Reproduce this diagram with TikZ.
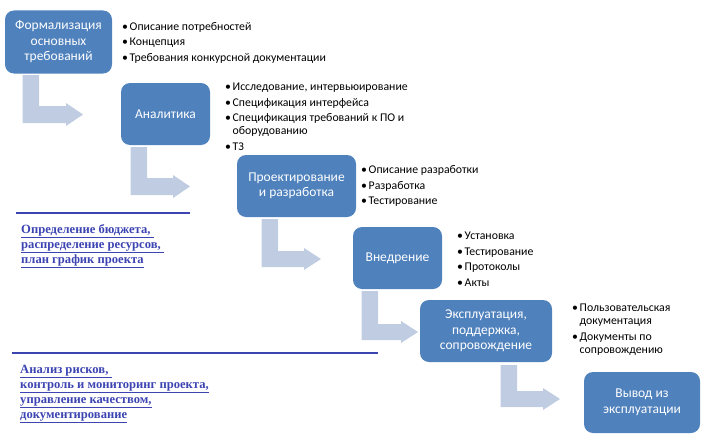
\documentclass[tikz,border=0pt]{standalone}
\usepackage{fontspec}
\setmainfont{Carlito}
\newfontfamily\serifb{Liberation Serif}
\definecolor{boxblue}{RGB}{79,129,189}
\definecolor{arrowfill}{RGB}{192,204,226}
\definecolor{linkblue}{RGB}{60,68,178}
\tikzset{
  stage/.style={fill=boxblue, rounded corners=9pt, text=white, align=center, inner sep=0pt,
     font=\fontsize{13.5}{15.5}\selectfont},
  blist/.style={anchor=north west, inner sep=0pt, align=left, text width=#1,
     font=\fontsize{11.8}{13}\selectfont},
  note/.style={anchor=north west, inner sep=0pt, align=left, text=linkblue,
     font=\serifb\bfseries\fontsize{12.6}{15}\selectfont},
  rule/.style={draw=linkblue, line width=2.6pt}
}
\newcommand\bitem[1]{\par\rightskip=0pt plus 1fil\spaceskip=0.23em plus 0.05em\hangindent=7.5pt\hangafter=1\noindent\makebox[7.5pt][l]{•}#1\par\vspace{2.8pt}}
% #1 x left, #2 y top, #3 shaft top, #4 shaft bottom, #5 tip x
\newcommand\bendarrow[5]{%
  \fill[arrowfill] (#1,#2) -- (#1+16.5,#2) -- (#1+16.5,#3) -- (#5-17,#3) -- (#5-17,#3-3)
    -- (#5,{(#3+#4)/2}) -- (#5-17,#4+3) -- (#5-17,#4) -- (#1,#4) -- cycle;}
\begin{document}
\begin{tikzpicture}[x=1pt,y=-1pt]
\useasboundingbox (0,0) rectangle (706,444);
% arrows
\bendarrow{22.5}{75}{106}{123}{83}
\bendarrow{130.5}{147}{178}{195}{190}
\bendarrow{261.5}{219}{251}{267}{321}
\bendarrow{361.5}{291}{324}{340}{418}
\bendarrow{500.5}{365}{391}{407}{560}
% stages
\node[stage, minimum width=107pt, minimum height=63pt] (b1) at (58.5,42) {Формализация\\основных\\требований};
\node[stage, minimum width=89pt, minimum height=62pt] (b2) at (165.5,114) {Аналитика};
\node[stage, minimum width=119pt, minimum height=62pt] (b3) at (296.5,186) {Проектирование\\и разработка};
\node[stage, minimum width=89pt, minimum height=62pt] (b4) at (397.5,258) {Внедрение};
\node[stage, minimum width=132pt, minimum height=62pt] (b5) at (486,331) {Эксплуатация,\\поддержка,\\сопровождение};
\node[stage, minimum width=116pt, minimum height=61pt] (b6) at (642,402.5) {Вывод из\\эксплуатации};
% bullet lists
\node[blist=240pt] (l1) at (122,17) {\bitem{Описание потребностей}\bitem{Концепция}\bitem{Требования конкурсной документации}};
\node[blist=196pt] (l2) at (225,77) {\bitem{Исследование, интервьюирование}\bitem{Спецификация интерфейса}\bitem{Спецификация требований к ПО и оборудованию}\bitem{ТЗ}};
\node[blist=160pt] (l3) at (361,160) {\bitem{Описание разработки}\bitem{Разработка}\bitem{Тестирование}};
\node[blist=120pt] (l4) at (457,226) {\bitem{Установка}\bitem{Тестирование}\bitem{Протоколы}\bitem{Акты}};
\node[blist=100pt] (l5) at (572,298) {\bitem{Пользовательская документация}\bitem{Документы по сопровождению}};
% rules and notes
\draw[rule] (16,213) -- (190,213);
\draw[rule] (12,353) -- (378,353);
\node[note] (n1) at (21,224) {\underline{Определение бюджета,\ }\\\underline{распределение ресурсов,\ }\\\underline{план график проекта}};
\node[note] (n2) at (20,365) {\underline{Анализ рисков,\ }\\\underline{контроль и мониторинг проекта,}\\\underline{управление качеством,}\\\underline{документирование}};
\end{tikzpicture}
\end{document}
